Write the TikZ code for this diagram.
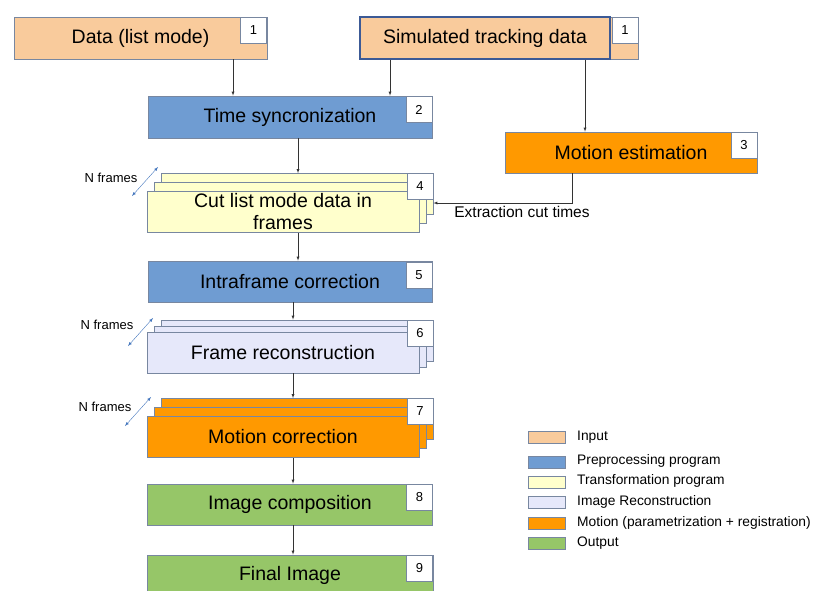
\documentclass[tikz,border=0pt]{standalone}
\usepackage{fontspec}
\setmainfont{Liberation Sans}
\usetikzlibrary{shapes, arrows}

\definecolor{inputc}{RGB}{249,203,156}
\definecolor{prepc}{RGB}{111,156,210}
\definecolor{transc}{RGB}{255,255,204}
\definecolor{reconc}{RGB}{230,232,250}
\definecolor{motionc}{RGB}{255,153,0}
\definecolor{outc}{RGB}{150,198,104}
\definecolor{bordc}{RGB}{120,135,160}
\definecolor{darkbordc}{RGB}{60,90,150}
\definecolor{nfc}{RGB}{70,120,190}

\tikzset{
  box/.style={draw=bordc, line width=0.8pt, inner sep=0pt, minimum height=41pt, align=center, font=\fontsize{19.5}{22}\selectfont},
  num/.style={draw=bordc, line width=0.8pt, fill=white, inner sep=0pt, minimum width=26pt, minimum height=26pt, font=\fontsize{13}{15}\selectfont},
  swatch/.style={draw=bordc, line width=0.6pt, minimum width=37pt, minimum height=12pt, inner sep=0pt},
  legtext/.style={anchor=west, inner sep=0pt, font=\fontsize{13.8}{16}\selectfont},
  small/.style={inner sep=0pt, font=\fontsize{13}{15}\selectfont}
}

\begin{document}
\begin{tikzpicture}[x=1pt, y=-1pt]
\useasboundingbox (0,0) rectangle (813,590);
% Inputs
\node[box, fill=inputc, minimum width=253pt, minimum height=42pt] (in1) at (140.5,38) {Data (list mode)};
\node[num] (k1a) at (253.5,30) {1};
\node[box, fill=inputc, minimum width=28pt, minimum height=42pt] (in2t) at (624,38) {};
\node[box, fill=inputc, draw=darkbordc, line width=1.2pt, minimum width=250pt, minimum height=42pt] (in2) at (485,38) {Simulated tracking data};
\node[num] (k1b) at (625,30) {1};
% Preprocessing
\node[box, fill=prepc, minimum width=284pt, minimum height=42pt] (p1) at (290,117) {Time syncronization};
\node[num] (k2) at (419,109.5) {2};
\node[box, fill=motionc, minimum width=252pt] (m1) at (631,152.5) {Motion estimation};
\node[num] (k3) at (744,145) {3};
% Cut frames (stack)
\node[box, fill=transc, minimum width=272pt] (t1c) at (297,194) {};
\node[box, fill=transc, minimum width=272pt] (t1b) at (290,203) {};
\node[box, fill=transc, minimum width=272pt] (t1a) at (283,212) {Cut list mode data in\\frames};
\node[num] (k4) at (420,186) {4};
% Intraframe
\node[box, fill=prepc, minimum width=284pt] (p2) at (290,281.5) {Intraframe correction};
\node[num] (k5) at (419,275) {5};
% Frame reconstruction (stack)
\node[box, fill=reconc, minimum width=272pt] (r1c) at (297,340.5) {};
\node[box, fill=reconc, minimum width=272pt] (r1b) at (290,346.5) {};
\node[box, fill=reconc, minimum width=272pt] (r1a) at (283,352.5) {Frame reconstruction};
\node[num] (k6) at (420,333) {6};
% Motion correction (stack)
\node[box, fill=motionc, minimum width=272pt] (m2c) at (297,419) {};
\node[box, fill=motionc, minimum width=272pt] (m2b) at (290,428) {};
\node[box, fill=motionc, minimum width=272pt] (m2a) at (283,437) {Motion correction};
\node[num] (k7) at (420,411.5) {7};
% Output
\node[box, fill=outc, minimum width=285pt] (o1) at (290,504.5) {Image composition};
\node[num] (k8) at (419.5,497) {8};
\node[box, fill=outc, minimum width=286pt] (o2) at (290,575.5) {Final Image};
\node[num] (k9) at (419.5,568) {9};
% N frames
\node[small] (f1) at (111,178) {N frames};
\node[small] (f2) at (107,325) {N frames};
\node[small] (f3) at (105,407) {N frames};
\coordinate (na1) at (132,196); \coordinate (nb1) at (158,167);
\coordinate (na2) at (128,346); \coordinate (nb2) at (153,318);
\coordinate (na3) at (125,426); \coordinate (nb3) at (151,397);
% Arrow columns
\coordinate (x1) at (233,0);
\coordinate (x2) at (390,0);
\coordinate (x3) at (585,0);
\coordinate (x4) at (298,0);
\coordinate (x5) at (293,0);
\coordinate (e1) at (572,203);
% Arrows
\draw [->, thin, >=latex, draw=black!80] (in1.south -| x1)--(p1.north -| x1);
\draw [->, thin, >=latex, draw=black!80] (in2.south -| x2)--(p1.north -| x2);
\draw [->, thin, >=latex, draw=black!80] (in2.south -| x3)--(m1.north -| x3);
\draw [->, thin, >=latex, draw=black!80] (p1.south -| x4)--(t1c.north -| x4);
\draw [->, thin, >=latex, draw=black!80] (t1a.south -| x4)--(p2.north -| x4);
\draw [->, thin, >=latex, draw=black!80] (p2.south -| x5)--(r1c.north -| x5);
\draw [->, thin, >=latex, draw=black!80] (r1a.south -| x5)--(m2c.north -| x5);
\draw [->, thin, >=latex, draw=black!80] (m2a.south -| x5)--(o1.north -| x5);
\draw [->, thin, >=latex, draw=black!80] (o1.south -| x5)--(o2.north -| x5);
\draw [->, thin, >=latex, draw=black!80] (m1.south -| e1)--(e1)--(t1c.east |- e1);
\node[small, font=\fontsize{15.5}{18}\selectfont] (ex) at (522,212) {Extraction cut times};
\draw [<->, thin, >=latex, draw=nfc] (na1)--(nb1);
\draw [<->, thin, >=latex, draw=nfc] (na2)--(nb2);
\draw [<->, thin, >=latex, draw=nfc] (na3)--(nb3);
% Legend
\node[swatch, fill=inputc] (s1) at (546.5,437) {};
\node[swatch, fill=prepc] (s2) at (546.5,462) {};
\node[swatch, fill=transc] (s3) at (546.5,482) {};
\node[swatch, fill=reconc] (s4) at (546.5,502.5) {};
\node[swatch, fill=motionc] (s5) at (546.5,523) {};
\node[swatch, fill=outc] (s6) at (546.5,543.5) {};
\node[legtext] (g1) at (577,437) {Input};
\node[legtext] (g2) at (577,461) {Preprocessing program};
\node[legtext] (g3) at (577,481) {Transformation program};
\node[legtext] (g4) at (577,501.5) {Image Reconstruction};
\node[legtext] (g5) at (577,523) {Motion (parametrization + registration)};
\node[legtext] (g6) at (577,543.5) {Output};
\end{tikzpicture}
\end{document}
